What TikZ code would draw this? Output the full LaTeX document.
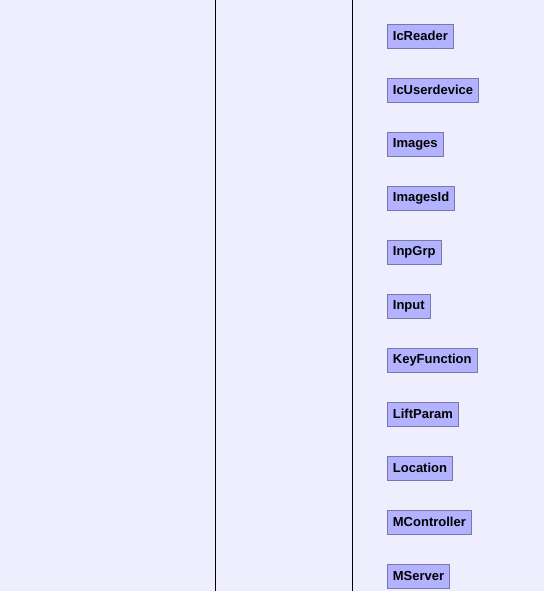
\documentclass[tikz,border=0pt]{standalone}
\usepackage{fontspec}
\setmainfont{Liberation Sans}
\usepackage{tikz}

\definecolor{bgcol}{RGB}{238,238,255}
\definecolor{boxfill}{RGB}{178,178,255}
\definecolor{boxline}{RGB}{120,120,170}

\tikzset{
  classbox/.style={draw=boxline, fill=boxfill, anchor=west, font=\fontsize{13}{15}\selectfont\bfseries,
    inner xsep=5.5pt, inner ysep=0pt, minimum height=24pt, line width=0.8pt}
}

\begin{document}
\begin{tikzpicture}[x=1pt, y=-1pt]
                % Background
                \fill[bgcol] (0,0) rectangle (544,591);
                \useasboundingbox (0,0) rectangle (544,591);

                % Lanes
                \coordinate (l1top) at (215.5,0);
                \coordinate (l1bot) at (215.5,591);
                \coordinate (l2top) at (352.5,0);
                \coordinate (l2bot) at (352.5,591);
                \draw[line width=1pt] (l1top)--(l1bot);
                \draw[line width=1pt] (l2top)--(l2bot);

                % Nodes
                \node[classbox] (icreader) at (387,36) {IcReader};
                \node[classbox] (icuserdevice) at (387,90) {IcUserdevice};
                \node[classbox] (images) at (387,144) {Images};
                \node[classbox] (imagesid) at (387,198) {ImagesId};
                \node[classbox] (inpgrp) at (387,252) {InpGrp};
                \node[classbox] (input) at (387,306) {Input};
                \node[classbox] (keyfunction) at (387,360) {KeyFunction};
                \node[classbox] (liftparam) at (387,414) {LiftParam};
                \node[classbox] (location) at (387,468) {Location};
                \node[classbox] (mcontroller) at (387,522) {MController};
                \node[classbox] (mserver) at (387,576) {MServer};
            \end{tikzpicture}
\end{document}
